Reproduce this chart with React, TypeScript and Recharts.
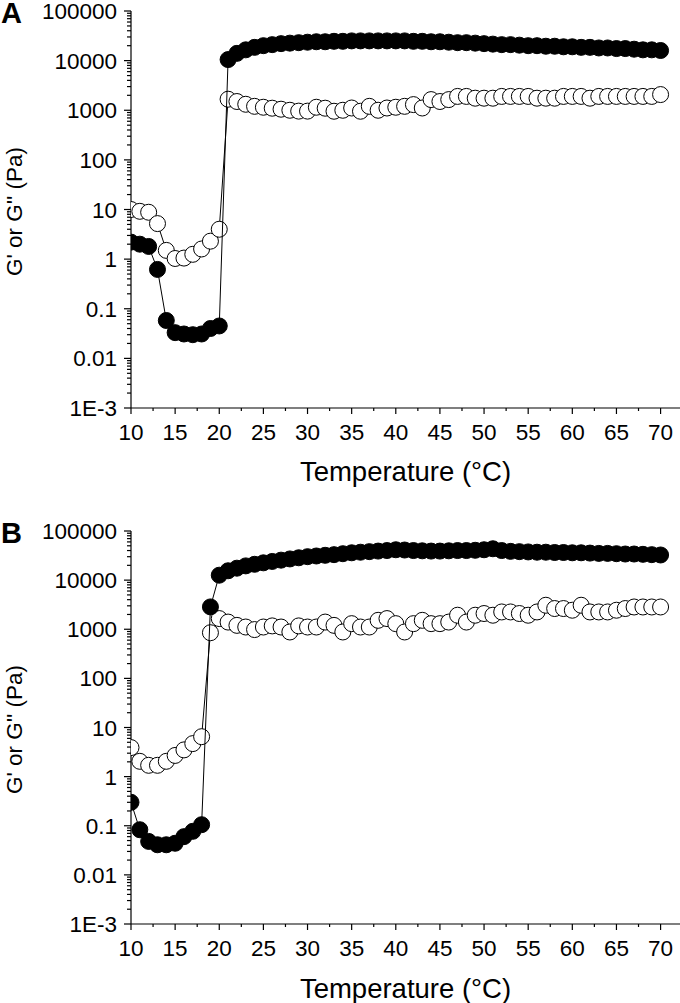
import React from 'react';
import { ScatterChart, Scatter, XAxis, YAxis } from 'recharts';

const FONT = '"Liberation Sans", Arial, Helvetica, sans-serif';

// temperature steps (°C)
const temps = [
  10, 11, 12, 13, 14, 15, 16, 17, 18, 19, 20,
  21, 22, 23, 24, 25, 26, 27, 28, 29, 30,
  31, 32, 33, 34, 35, 36, 37, 38, 39, 40,
  41, 42, 43, 44, 45, 46, 47, 48, 49, 50,
  51, 52, 53, 54, 55, 56, 57, 58, 59, 60,
  61, 62, 63, 64, 65, 66, 67, 68, 69, 70,
];

// panel A
const gPrimeA = [
  2.2, 2.0, 1.8, 0.62, 0.058, 0.033, 0.031, 0.03, 0.031, 0.04, 0.045,
  10500, 14000, 16500, 18500, 20000, 21000, 22000, 22500, 23000, 23500,
  24000, 24000, 24500, 24500, 25000, 25000, 25000, 25000, 25000, 25000,
  25000, 24500, 24500, 24000, 24000, 23500, 23000, 23000, 22500, 22000,
  21500, 21000, 21000, 20500, 20000, 20000, 19500, 19500, 19000, 19000,
  18500, 18500, 18000, 18000, 17500, 17500, 17000, 16500, 16500, 16000,
];
const gDoublePrimeA = [
  10, 9.2, 8.8, 5.2, 1.5, 1.03, 1.05, 1.25, 1.6, 2.3, 4.0,
  1670, 1500, 1320, 1200, 1150, 1100, 1050, 1000, 960, 960,
  1150, 1100, 955, 1000, 1110, 955, 1200, 1000, 1110, 1150,
  1200, 1300, 1110, 1640, 1500, 1640, 1900, 1900, 1750, 1750,
  1750, 1900, 1900, 1900, 1900, 1750, 1750, 1750, 1900, 1900,
  1900, 1750, 1900, 1900, 1900, 1900, 1900, 1900, 1900, 2070,
];

// panel B
const gPrimeB = [
  0.3, 0.083, 0.048, 0.041, 0.041, 0.044, 0.06, 0.077, 0.105, 2850, 12600,
  15500, 17500, 19500, 21000, 22500, 24000, 25500, 27000, 28500, 30000,
  31000, 32000, 33000, 34500, 36000, 37000, 38000, 39000, 40000, 41500,
  41000, 40000, 39500, 39000, 39000, 39500, 40000, 40000, 40500, 41500,
  43500, 40000, 38500, 38000, 37500, 37000, 37000, 36500, 36500, 36000,
  36000, 35500, 35000, 35000, 34500, 34000, 34000, 33500, 33000, 32500,
];
const gDoublePrimeB = [
  3.9, 2.05, 1.7, 1.7, 2.05, 2.7, 3.5, 4.7, 6.5, 850, 1650,
  1400, 1200, 1110, 985, 1110, 1170, 1110, 880, 1170, 1110,
  1110, 1400, 1200, 880, 1300, 1110, 1110, 1520, 1650, 1300,
  880, 1300, 1520, 1300, 1300, 1400, 1930, 1400, 1930, 2090,
  1930, 2250, 2250, 2090, 1930, 2250, 3080, 2640, 2640, 2440,
  3080, 2250, 2250, 2250, 2440, 2640, 2840, 2840, 2840, 2840,
];

// axes
const xMajor = [10, 15, 20, 25, 30, 35, 40, 45, 50, 55, 60, 65, 70];
const xMinor = [12.5, 17.5, 22.5, 27.5, 32.5, 37.5, 42.5, 47.5, 52.5, 57.5, 62.5, 67.5];
const yMajor = [0.001, 0.01, 0.1, 1, 10, 100, 1000, 10000, 100000];
const yTickLabels = ['1E-3', '0.01', '0.1', '1', '10', '100', '1000', '10000', '100000'];

const xTicks = [...xMajor, ...xMinor].sort((a, b) => a - b);
// log minor ticks 2..9 in every decade
const yMinor: number[] = [];
yMajor.slice(0, -1).forEach((d) => {
  for (let k = 2; k <= 9; k++) yMinor.push(+(d * k).toPrecision(3));
});
const yTicks = [...yMajor, ...yMinor].sort((a, b) => a - b);

const toPoints = (vals: number[]) => temps.map((t, i) => ({ t, v: vals[i] }));

const renderXTick = (props: any) => {
  const { x, y, payload } = props;
  const major = xMajor.includes(payload.value);
  return (
    <g>
      <line x1={x} x2={x} y1={y} y2={y + (major ? 6 : 3)} stroke="#000" strokeWidth={1.2} />
      {major && (
        <text x={x} y={y + 32} textAnchor="middle" fontSize={22.5} fontFamily={FONT} fill="#000">
          {payload.value}
        </text>
      )}
    </g>
  );
};

const renderYTick = (props: any) => {
  const { x, y, payload } = props;
  const idx = yMajor.findIndex((m) => Math.abs(m - payload.value) < m * 1e-6);
  const major = idx >= 0;
  return (
    <g>
      <line x1={x - (major ? 7 : 4)} x2={x} y1={y} y2={y} stroke="#000" strokeWidth={1.2} />
      {major && (
        <text x={x - 14} y={y} dy="0.36em" textAnchor="end" fontSize={22.5} fontFamily={FONT} fill="#000">
          {yTickLabels[idx]}
        </text>
      )}
    </g>
  );
};

const openDot = (p: any) => <circle cx={p.cx} cy={p.cy} r={8} fill="#fff" stroke="#000" strokeWidth={1} />;
const filledDot = (p: any) => <circle cx={p.cx} cy={p.cy} r={8} fill="#000" stroke="#000" strokeWidth={1} />;

function Panel({ letter, gp, gpp, height, axisH, titleOffset }: any) {
  return (
    <div style={{ position: 'relative', width: 680, height }}>
      <ScatterChart width={680} height={height} margin={{ top: 11, right: 0, bottom: 0, left: 0 }}>
        <XAxis
          type="number"
          dataKey="t"
          domain={[10, 72.2]}
          ticks={xTicks}
          interval={0}
          allowDataOverflow
          height={axisH}
          tickLine={false}
          tickSize={0}
          tickMargin={0}
          tick={renderXTick}
          axisLine={{ stroke: '#000', strokeWidth: 1.2 }}
          label={({ viewBox }: any) => (
            <text
              x={viewBox.x + viewBox.width / 2}
              y={viewBox.y + titleOffset}
              textAnchor="middle"
              fontSize={27.5}
              fontFamily={FONT}
              fill="#000"
            >
              Temperature (°C)
            </text>
          )}
        />
        <YAxis
          type="number"
          dataKey="v"
          scale="log"
          domain={[0.001, 100000]}
          ticks={yTicks}
          interval={0}
          allowDataOverflow
          width={131}
          tickLine={false}
          tickSize={0}
          tickMargin={0}
          tick={renderYTick}
          axisLine={{ stroke: '#000', strokeWidth: 1.2 }}
          label={({ viewBox }: any) => {
            const cx = 14;
            const cy = viewBox.y + viewBox.height / 2 + 2;
            return (
              <text
                x={cx}
                y={cy}
                transform={`rotate(-90, ${cx}, ${cy})`}
                textAnchor="middle"
                dominantBaseline="central"
                fontSize={22.5}
                fontFamily={FONT}
                fill="#000"
              >
                G' or G'' (Pa)
              </text>
            );
          }}
        />
        <Scatter
          name="G''"
          data={toPoints(gpp)}
          line={{ stroke: '#000', strokeWidth: 1 }}
          shape={openDot}
          isAnimationActive={false}
        />
        <Scatter
          name="G'"
          data={toPoints(gp)}
          line={{ stroke: '#000', strokeWidth: 1 }}
          shape={filledDot}
          isAnimationActive={false}
        />
      </ScatterChart>
      <svg width={44} height={40} style={{ position: 'absolute', left: 0, top: 0 }}>
        <text x={1} y={23} fontSize={29} fontWeight="bold" fontFamily={FONT} fill="#000">
          {letter}
        </text>
      </svg>
    </div>
  );
}

export default function App() {
  return (
    <div style={{ position: 'absolute', left: 0, top: 0, width: 680, height: 1003, background: '#fff' }}>
      <Panel letter="A" gp={gPrimeA} gpp={gDoublePrimeA} height={520} axisH={112} titleOffset={73} />
      <Panel letter="B" gp={gPrimeB} gpp={gDoublePrimeB} height={483} axisH={79} titleOffset={74} />
    </div>
  );
}
